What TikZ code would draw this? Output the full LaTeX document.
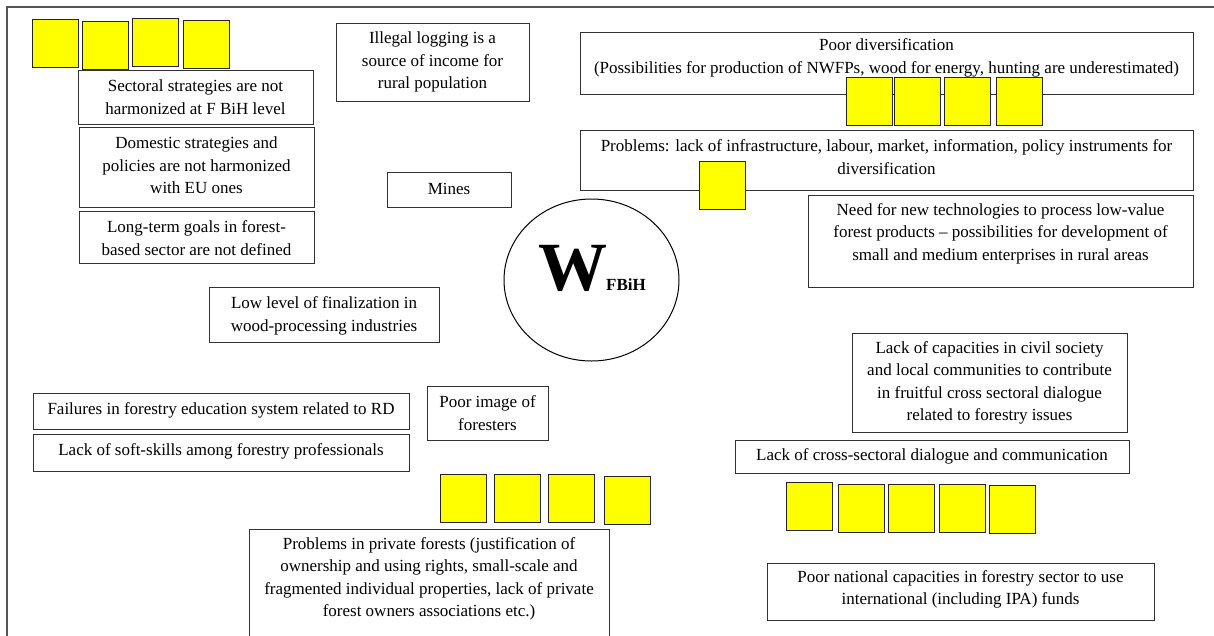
\documentclass[tikz,border=0pt]{standalone}
\usepackage{fontspec}
\setmainfont{Liberation Serif}
\usetikzlibrary{shapes.geometric}
\definecolor{frame}{RGB}{85,85,85}
\definecolor{edge}{RGB}{50,50,50}
\definecolor{sq}{RGB}{255,255,0}
\tikzset{
  box/.style={draw=edge, line width=1.1pt, fill=white, inner sep=0pt, anchor=north west},
  txt/.style={align=center, inner sep=0pt, font=\fontsize{17}{22.5}\selectfont},
  ysq/.style={draw=black!85, line width=1.1pt, fill=sq, inner sep=0pt, anchor=north west, minimum width=45.5pt, minimum height=48pt},
}
\begin{document}
\begin{tikzpicture}[x=1pt,y=-1pt]
\useasboundingbox (0,0) rectangle (1214,635);
\fill[white] (0,0) rectangle (1214,635);
% outer frame (cut off at right and bottom)
\draw[frame, line width=1.3pt] (7,700) -- (7,7) -- (1300,7);

% boxes
\node[box, minimum width=235pt, minimum height=54pt] (sect) at (78,70) {};
\node[box, minimum width=235pt, minimum height=80pt] (dom) at (79,127) {};
\node[box, minimum width=235pt, minimum height=52pt] (long) at (79,211) {};
\node[box, minimum width=193pt, minimum height=78pt] (illegal) at (336,23) {};
\node[box, minimum width=124pt, minimum height=35pt] (mines) at (387,172) {};
\node[box, minimum width=230pt, minimum height=55pt] (low) at (209,287) {};
\node[box, minimum width=613pt, minimum height=62pt] (poordiv) at (580,32) {};
\node[box, minimum width=613pt, minimum height=60pt] (problems) at (580,130) {};
\node[box, minimum width=385pt, minimum height=92pt] (need) at (808,195) {};
\node[box, minimum width=121pt, minimum height=54pt] (poorimg) at (427,386) {};
\node[box, minimum width=376pt, minimum height=36pt] (fail) at (33,393) {};
\node[box, minimum width=376pt, minimum height=37pt] (soft) at (33,434) {};
\node[box, minimum width=360pt, minimum height=130pt] (private) at (249,529) {};
\node[box, minimum width=275pt, minimum height=99pt] (capac) at (852,333) {};
\node[box, minimum width=394pt, minimum height=33pt] (cross) at (735,440) {};
\node[box, minimum width=387pt, minimum height=57pt] (national) at (767,563) {};

% texts
\node[txt] (sect-t) at (195.5,97) {Sectoral strategies are not\\harmonized at F BiH level};
\node[txt] (dom-t) at (196.5,165.5) {Domestic strategies and\\policies are not harmonized\\with EU ones};
\node[txt] (long-t) at (196.5,238) {Long-term goals in forest-\\based sector are not defined};
\node[txt] (illegal-t) at (432.5,62) {Illegal logging is a\\source of income for\\rural population};
\node[txt] (mines-t) at (449,188.5) {Mines};
\node[txt] (low-t) at (324,316) {Low level of finalization in\\wood-processing industries};
\node[txt] (poordiv-t) at (886.5,58) {Poor diversification\\(Possibilities for production of NWFPs, wood for energy, hunting are underestimated)};
\node[txt] (problems-t) at (886.5,157) {Problems: lack of infrastructure, labour, market, information, policy instruments for\\diversification};
\node[txt] (need-t) at (1000.5,233.5) {Need for new technologies to process low-value\\forest products -- possibilities for development of\\small and medium enterprises in rural areas};
\node[txt] (poorimg-t) at (487.5,413) {Poor image of\\foresters};
\node[txt] (fail-t) at (221,410) {Failures in forestry education system related to RD};
\node[txt] (soft-t) at (221,451) {Lack of soft-skills among forestry professionals};
\node[txt] (private-t) at (429,579) {Problems in private forests (justification of\\ownership and using rights, small-scale and\\fragmented individual properties, lack of private\\forest owners associations etc.)};
\node[txt] (capac-t) at (989.5,383) {Lack of capacities in civil society\\and local communities to contribute\\in fruitful cross sectoral dialogue\\related to forestry issues};
\node[txt] (cross-t) at (932,456.5) {Lack of cross-sectoral dialogue and communication};
\node[txt] (national-t) at (960.5,589.5) {Poor national capacities in forestry sector to use\\international (including IPA) funds};

% central ellipse
\node[draw=black, line width=1pt, ellipse, minimum width=175pt, minimum height=162pt, inner sep=0pt] (wcirc) at (591.5,280) {};
\node[anchor=base west, inner sep=0pt, font=\fontsize{69}{69}\selectfont\bfseries] (wbig) at (538,290) {W};
\node[anchor=base west, inner sep=0pt, font=\fontsize{17}{17}\selectfont\bfseries] (wsub) at (606,290) {FBiH};

% yellow squares
\node[ysq] (s1) at (32,19) {};
\node[ysq] (s2) at (82,21) {};
\node[ysq] (s3) at (132,18) {};
\node[ysq] (s4) at (183,20) {};
\node[ysq] (s5) at (846,77) {};
\node[ysq] (s6) at (894,77) {};
\node[ysq] (s7) at (944,77) {};
\node[ysq] (s8) at (996,77) {};
\node[ysq] (s9) at (699,161) {};
\node[ysq] (s10) at (440,474) {};
\node[ysq] (s11) at (494,474) {};
\node[ysq] (s12) at (548,474) {};
\node[ysq] (s13) at (604,476) {};
\node[ysq] (s14) at (786,482) {};
\node[ysq] (s15) at (838,484) {};
\node[ysq] (s16) at (888,484) {};
\node[ysq] (s17) at (939,484) {};
\node[ysq] (s18) at (989,485) {};
\end{tikzpicture}
\end{document}
